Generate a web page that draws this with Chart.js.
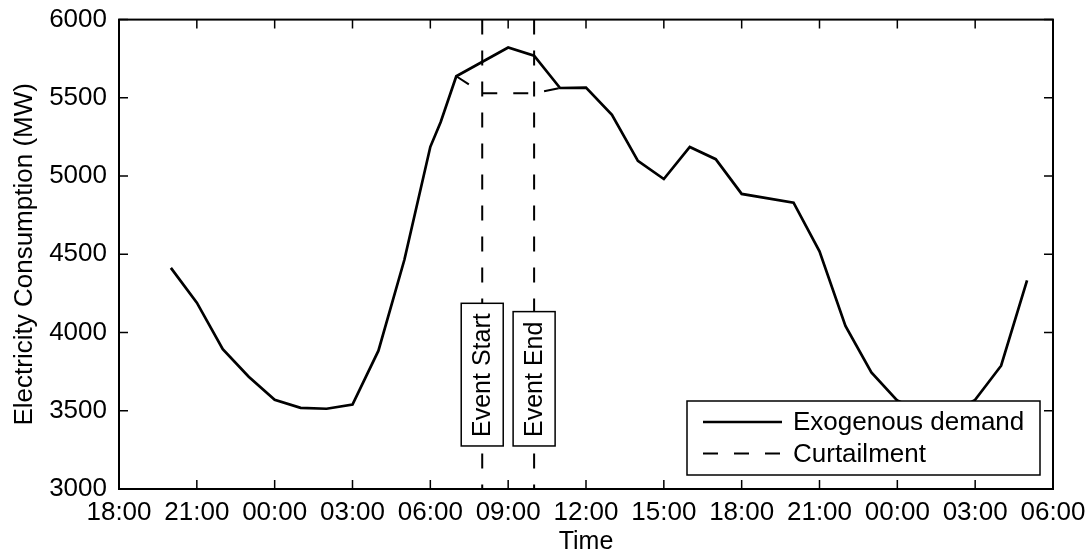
<!DOCTYPE html>
<html>
<head>
<meta charset="utf-8">
<script src="https://cdn.jsdelivr.net/npm/chart.js@4.4.0/dist/chart.umd.min.js"></script>
<style>
  html, body { margin: 0; padding: 0; background: #fff; }
</style>
</head>
<body>
<canvas id="myChart" width="1090" height="557"></canvas>
<script>
// x values are hours counted from 18:00 on the first evening
var demandHours = [2, 3, 4, 5, 6, 7, 8, 9, 10, 11, 12, 12.4, 13, 15, 16, 17, 18, 19, 20, 21, 22, 23, 24, 26, 27, 28, 29, 30, 31, 32, 33, 34, 35];
var demandMW = [4413, 4191, 3894, 3718, 3570, 3519, 3513, 3540, 3884, 4465, 5187, 5346, 5638, 5822, 5769, 5563, 5565, 5392, 5097, 4981, 5186, 5108, 4886, 4830, 4519, 4042, 3745, 3565, 3490, 3480, 3570, 3788, 4334];
var curtailHours = [13, 14, 15, 16, 17];
var curtailMW = [5638, 5530, 5530, 5530, 5563];
var eventHours = [14, 16];
var eventLabels = ['Event Start', 'Event End'];
var eventBoxBottom = 3275;
var timeTicks = ['18:00', '21:00', '00:00', '03:00', '06:00', '09:00', '12:00', '15:00', '18:00', '21:00', '00:00', '03:00', '06:00'];

var FONT = "'Liberation Sans', Arial, Helvetica, sans-serif";
var DASH = [15, 16];

function toPoints(xs, ys) {
  return xs.map(function (x, i) { return { x: x, y: ys[i] }; });
}

// frame, inward ticks, event markers and the boxed legend
var decorations = {
  id: 'decorations',
  afterDatasetsDraw: function (chart) {
    var ctx = chart.ctx;
    var area = chart.chartArea;
    var xs = chart.scales.x;
    var ys = chart.scales.y;
    ctx.save();

    // event lines with their labels
    ctx.font = '25px ' + FONT;
    eventHours.forEach(function (h, i) {
      var px = xs.getPixelForValue(h);
      ctx.strokeStyle = '#000';
      ctx.lineWidth = 2;
      ctx.setLineDash(DASH);
      ctx.beginPath();
      ctx.moveTo(px, area.top);
      ctx.lineTo(px, area.bottom);
      ctx.stroke();
      ctx.setLineDash([]);

      var len = ctx.measureText(eventLabels[i]).width;
      var bottom = ys.getPixelForValue(eventBoxBottom);
      var top = bottom - len - 19;
      var w = 42;
      ctx.fillStyle = '#fff';
      ctx.fillRect(px - w / 2, top, w, bottom - top);
      ctx.lineWidth = 1.5;
      ctx.strokeRect(px - w / 2, top, w, bottom - top);

      ctx.save();
      ctx.translate(px + 1, bottom - 9);
      ctx.rotate(-Math.PI / 2);
      ctx.fillStyle = '#000';
      ctx.textAlign = 'left';
      ctx.textBaseline = 'middle';
      ctx.fillText(eventLabels[i], 0, 0);
      ctx.restore();
    });

    // axes box
    ctx.strokeStyle = '#000';
    ctx.lineWidth = 2;
    ctx.strokeRect(area.left, area.top, area.right - area.left, area.bottom - area.top);

    // inward ticks on all four sides
    var tl = 9;
    ctx.lineWidth = 1.5;
    ctx.beginPath();
    xs.ticks.forEach(function (t) {
      var px = xs.getPixelForValue(t.value);
      ctx.moveTo(px, area.bottom);
      ctx.lineTo(px, area.bottom - tl);
      ctx.moveTo(px, area.top);
      ctx.lineTo(px, area.top + tl);
    });
    ys.ticks.forEach(function (t) {
      var py = ys.getPixelForValue(t.value);
      ctx.moveTo(area.left, py);
      ctx.lineTo(area.left + tl, py);
      ctx.moveTo(area.right, py);
      ctx.lineTo(area.right - tl, py);
    });
    ctx.stroke();

    // legend box in the lower right corner
    var lx = area.right - 353 - 13;
    var ly = area.bottom - 74 - 14;
    ctx.fillStyle = '#fff';
    ctx.fillRect(lx, ly, 353, 74);
    ctx.lineWidth = 1.5;
    ctx.strokeRect(lx, ly, 353, 74);
    ctx.font = '26px ' + FONT;
    ctx.textAlign = 'left';
    ctx.textBaseline = 'middle';
    chart.data.datasets.forEach(function (ds, i) {
      var ry = ly + 21 + i * 31.5;
      ctx.strokeStyle = ds.borderColor;
      ctx.lineWidth = ds.borderWidth;
      ctx.setLineDash(ds.borderDash || []);
      ctx.beginPath();
      ctx.moveTo(lx + 16, ry);
      ctx.lineTo(lx + 95, ry);
      ctx.stroke();
      ctx.setLineDash([]);
      ctx.fillStyle = '#000';
      ctx.fillText(ds.label, lx + 106, ry + 1);
    });

    ctx.restore();
  }
};

var ctx = document.getElementById('myChart').getContext('2d');
var myChart = new Chart(ctx, {
  type: 'line',
  data: {
    datasets: [{
      label: 'Exogenous demand',
      data: toPoints(demandHours, demandMW),
      borderColor: '#000',
      borderWidth: 2.7,
      pointRadius: 0,
      tension: 0
    }, {
      label: 'Curtailment',
      data: toPoints(curtailHours, curtailMW),
      borderColor: '#000',
      borderWidth: 2,
      borderDash: DASH,
      pointRadius: 0,
      tension: 0
    }]
  },
  options: {
    responsive: false,
    animation: false,
    layout: { padding: { top: 17, right: 37, left: 0, bottom: 0 } },
    plugins: {
      legend: { display: false },
      tooltip: { enabled: false }
    },
    scales: {
      x: {
        type: 'linear',
        min: 0,
        max: 36,
        grid: { display: false },
        border: { display: false },
        ticks: {
          stepSize: 3,
          padding: 0,
          maxRotation: 0,
          color: '#000',
          font: { family: FONT, size: 26 },
          callback: function (v) { return timeTicks[Math.round(v / 3)]; }
        },
        title: {
          display: true,
          text: 'Time',
          color: '#000',
          font: { family: FONT, size: 25 },
          padding: { top: 0, bottom: 0 }
        },
        afterFit: function (scale) { scale.height = 68; }
      },
      y: {
        min: 3000,
        max: 6000,
        grid: { display: false },
        border: { display: false },
        ticks: {
          stepSize: 500,
          padding: 4,
          color: '#000',
          font: { family: FONT, size: 26 },
          callback: function (v) { return String(v); }
        },
        title: {
          display: true,
          text: 'Electricity Consumption (MW)',
          color: '#000',
          font: { family: FONT, size: 26 },
          padding: { top: 9, bottom: 0 }
        },
        afterFit: function (scale) { scale.width = 119; }
      }
    }
  },
  plugins: [decorations]
});
</script>
</body>
</html>
